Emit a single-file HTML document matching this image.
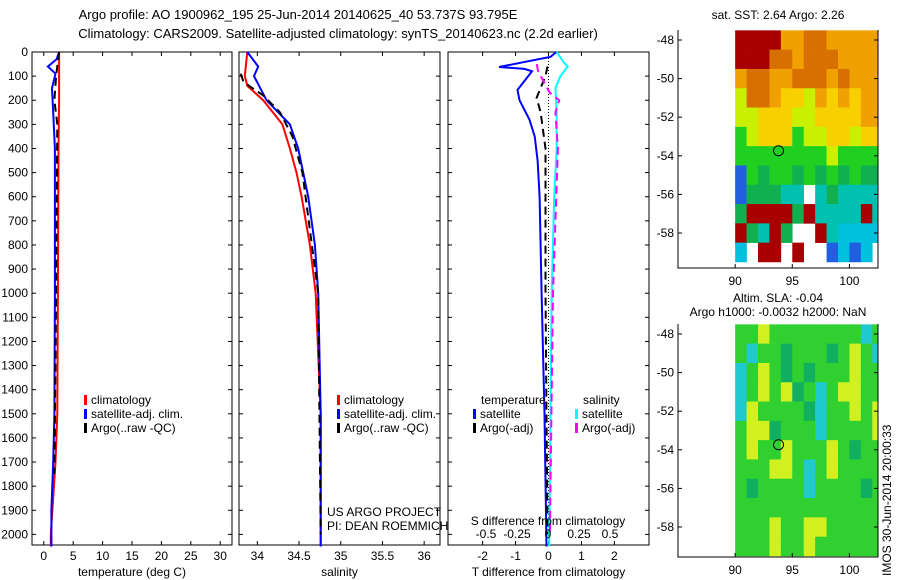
<!DOCTYPE html>
<html><head><meta charset="utf-8">
<style>
body{margin:0;background:#fff}
svg{display:block;font-family:"Liberation Sans",sans-serif}
text{fill:#000}
</style></head><body>
<svg id="s" width="900" height="580" viewBox="0 0 900 580">
<text x="298" y="19" font-size="13" text-anchor="middle">Argo profile: AO 1900962_195 25-Jun-2014 20140625_40 53.737S 93.795E</text>
<text x="338" y="38" font-size="13" text-anchor="middle">Climatology: CARS2009. Satellite-adjusted climatology: synTS_20140623.nc (2.2d earlier)</text>
<text x="778" y="19" font-size="12" text-anchor="middle">sat. SST: 2.64 Argo: 2.26</text>
<text x="778" y="302" font-size="12" text-anchor="middle">Altim. SLA: -0.04</text>
<text x="778" y="316" font-size="12" text-anchor="middle">Argo h1000: -0.0032 h2000: NaN</text>
<text transform="translate(891,576) rotate(-90)" font-size="12">IMOS 30-Jun-2014 20:00:33</text>
</svg>
<script>
const depthTicks=[0,100,200,300,400,500,600,700,800,900,1000,1100,1200,1300,1400,1500,1600,1700,1800,1900,2000];
const tTicks=[0,5,10,15,20,25,30];
const sTicks=[34,34.5,35,35.5,36];
const dtTicks=[-2,-1,0,1,2];
const dsTicks=[-0.5,-0.25,0,0.25,0.5];
const dsTickLabels=["-0.5","-0.25","0","0.25","0.5"];
// temperature profiles [depth, value]
const tClimDepth=[0,200,400,1000,1500,1700,2000,2050];
const tClim=[2.6,2.6,2.5,2.4,2.3,2.0,1.2,1.2];
const tSatDepth=[0,30,60,90,150,250,400,1000,1500,1700,1900,2050];
const tSat=[2.6,2.2,0.7,2.0,1.4,1.6,1.9,1.9,1.8,1.6,1.3,1.3];
const tArgoDepth=[0,100,200,300,1000,1750];
const tArgo=[2.6,2.1,1.8,2.3,2.1,1.8];
// salinity profiles
const sClimDepth=[0,100,140,200,300,400,500,600,800,1000,1500,2050];
const sClim=[33.88,33.85,33.88,34.07,34.30,34.39,34.47,34.53,34.63,34.70,34.76,34.76];
const sSatDepth=[0,60,100,200,300,400,500,600,800,1000,1500,2050];
const sSat=[33.88,34.01,33.96,34.11,34.39,34.49,34.55,34.61,34.69,34.73,34.76,34.76];
const sArgoDepth=[90,120,140,180,250,350,500,1000,2000];
const sArgo=[33.80,33.83,33.90,34.07,34.27,34.42,34.54,34.73,34.76];
// differences
const dtSatDepth=[0,20,62,70,80,157,200,280,350,450,600,800,1000,1500,2050];
const dtSat=[0.24,0.06,-1.5,-0.73,-0.5,-0.94,-0.88,-0.58,-0.42,-0.33,-0.27,-0.24,-0.21,-0.12,-0.06];
const dtArgoDepth=[60,100,190,250,400,600,1000,2000];
const dtArgo=[-0.03,-0.09,-0.36,-0.24,-0.09,-0.09,-0.09,-0.03];
const dsSatDepth=[0,45,60,100,150,250,400,600,1000,2050];
const dsSat=[0.07,0.13,0.16,0.10,0.06,0.07,0.07,0.05,0.03,0.01];
const dsArgoDepth=[50,80,170,200,250,400,1000,2000];
const dsArgo=[-0.09,-0.08,0.015,0.09,0.06,0.08,0.04,0.015];
// map grids (1 deg cells, lon 90..103, lat -47.5 downward)
const sstRows=["RRRRooOOooooo","RRROOoOOOoooo","oOOooOOOoOooo","yOOoYYyoYoYoo","yyYYYyyYYYYoo","GyYYYGyyYYyYY","GGGGGGGGyGGGG","BGgGGgGgGgGgg","BgggTTWTgTTTT","gRRRRgRTTTTRT","RgTRgWWRTCCCC","CWRRWRWWBCBCW"];
const slaRows=["GGYGGGGGGGGCG","GCGGgGGGgGYGC","CGYGgGgGGGYGG","CGYGYgGCGYYGG","CYGGGGgCGGYGY","GYYgGGGCGGGGY","GYGGYGGGYGgGG","GGGYYGCGYGGGG","GgGGGGCGGGGgG","GGGGGGGGGGGGG","GGGYGGYYGGGGG","GGGYGGYGGGGGG"];
const sstColors={R:"#a80000",O:"#d87000",o:"#f0a000",Y:"#f8d000",y:"#c8f000",G:"#20d020",g:"#10b050",T:"#00c0b0",C:"#00c0e0",B:"#2060e0",W:"#ffffff"};
const slaColors={G:"#30d030",g:"#10b060",Y:"#d0f020",C:"#20c8d0"};

const NS="http://www.w3.org/2000/svg";
const svg=document.getElementById('s');
function mk(tag,a,parent){const e=document.createElementNS(NS,tag);for(const k in a)e.setAttribute(k,a[k]);(parent||svg).appendChild(e);return e;}
const Y0=52,PXD=0.2412;
const yD=d=>Y0+d*PXD;
const yBot=545;
function panel(x0,x1,name,xmin,xmax,ticks,labels,title){
  const g=mk('g',{});
  
  
  const xs=v=>x0+(v-xmin)/(xmax-xmin)*(x1-x0);
  const r=mk('rect',{x:x0,y:Y0,width:x1-x0,height:yBot-Y0,fill:'#fff',stroke:'#000','stroke-width':1},g);
  
  
  depthTicks.forEach(d=>{mk('line',{x1:x0,x2:x0+4,y1:yD(d),y2:yD(d),stroke:'#000'},g);mk('line',{x1:x1,x2:x1-4,y1:yD(d),y2:yD(d),stroke:'#000'},g);});
  ticks.forEach((v,i)=>{const x=xs(v);mk('line',{x1:x,x2:x,y1:yBot,y2:yBot-4,stroke:'#000'},g);mk('line',{x1:x,x2:x,y1:Y0,y2:Y0+4,stroke:'#000'},g);
    const t=mk('text',{x:x,y:560,'font-size':12,'text-anchor':'middle'},g);t.textContent=labels?labels[i]:String(v);
    
    });
  const tt=mk('text',{x:(x0+x1)/2,y:576,'font-size':12,'text-anchor':'middle'},g);tt.textContent=title;
  
  
  return {g,xs};
}
function line(p,depths,vals,color,name,dash,w){
  const pts=depths.map((d,i)=>p.xs(vals[i]).toFixed(1)+','+yD(d).toFixed(1)).join(' ');
  const a={points:pts,fill:'none',stroke:color,'stroke-width':w||2};
  if(dash)a['stroke-dasharray']=dash;
  const e=mk('polyline',a,p.g);
  
  
}
depthTicks.forEach(d=>{const t=mk('text',{x:28,y:yD(d)+4,'font-size':12,'text-anchor':'end'});t.textContent=d;
  
  });
const p1=panel(32,232,'temperature-panel',-2,32,tTicks,null,'temperature (deg C)');
line(p1,tClimDepth,tClim,'#f00','temp-climatology-line');
line(p1,tSatDepth,tSat,'#00f','temp-satellite-line');
line(p1,tArgoDepth,tArgo,'#000','temp-argo-line','8,5');
const p2=panel(239,440,'salinity-panel',33.78,36.19,sTicks,["34","34.5","35","35.5","36"],'salinity');
line(p2,sClimDepth,sClim,'#f00','sal-climatology-line');
line(p2,sSatDepth,sSat,'#00f','sal-satellite-line');
line(p2,sArgoDepth,sArgo,'#000','sal-argo-line','8,5');
const p3=panel(448,649,'difference-panel',-3.05,3.05,dtTicks,null,'T difference from climatology');
const p3s={g:p3.g,xs:v=>548+v*124};
mk('line',{x1:p3.xs(0),x2:p3.xs(0),y1:Y0,y2:yBot,stroke:'#000','stroke-dasharray':'1,2'},p3.g);
line(p3,dtSatDepth,dtSat,'#00f','dt-satellite-line');
line(p3,dtArgoDepth,dtArgo,'#000','dt-argo-line','8,5');
line(p3s,dsSatDepth,dsSat,'#0ff','ds-satellite-line');
line(p3s,dsArgoDepth,dsArgo,'#f0f','ds-argo-line','8,5');
dsTicks.forEach((v,i)=>{const t=mk('text',{x:p3s.xs(v),y:538,'font-size':12,'text-anchor':'middle'},p3.g);t.textContent=dsTickLabels[i];
  
  });
function txt(x,y,s,name,anchor){const t=mk('text',{x:x,y:y,'font-size':12,'text-anchor':anchor||'start'});t.textContent=s;
  
  }
txt(548,525,'S difference from climatology','s-diff-axis-title','middle');
txt(327,516,'US ARGO PROJECT','project-label');
txt(327,530,'PI: DEAN ROEMMICH','pi-label');
function leg(x,y,color,label){const r=mk('rect',{x:x,y:y-9,width:3,height:10,fill:color});
  
  
  txt(x+7,y,label,'legend-entry');}
[[84,'#f00','climatology'],[84,'#00f','satellite-adj. clim.'],[84,'#000','Argo(..raw -QC)']].forEach((e,i)=>leg(e[0],404+i*14,e[1],e[2]));
[[337,'#f00','climatology'],[337,'#00f','satellite-adj. clim.'],[337,'#000','Argo(..raw -QC)']].forEach((e,i)=>leg(e[0],404+i*14,e[1],e[2]));
txt(481,404,'temperature','legend-heading-temperature');
txt(583,404,'salinity','legend-heading-salinity');
leg(473,418,'#00f','satellite');leg(473,432,'#000','Argo(-adj)');
leg(575,418,'#0ff','satellite');leg(575,432,'#f0f','Argo(-adj)');
function map(top,bot,rows,colors,name){
  const g=mk('g',{});
  
  
  const x0=678,x1=878,lonMin=85,lonMax=102.5;
  const lx=l=>x0+(l-lonMin)/(lonMax-lonMin)*(x1-x0);
  const ly=l=>(top+10)+(-48-l)*19.3;
  mk('rect',{x:x0,y:top,width:x1-x0,height:bot-top,fill:'#fff'},g);
  rows.forEach((row,r)=>{for(let c=0;c<row.length;c++){const ch=row[c];if(ch==='W')continue;
    const xa=lx(90+c),xb=Math.min(lx(91+c),x1),ya=Math.max(ly(-47.5-r),top),yb=Math.min(ly(-48.5-r),bot);
    if(xb<=xa||yb<=ya)continue;
    const e=mk('rect',{x:xa,y:ya,width:xb-xa+0.3,height:yb-ya+0.3,fill:colors[ch]},g);
    
    }});
  mk('path',{d:`M${x0},${top}V${bot}H${x1}V${top}`,fill:'none',stroke:'#000'},g);
  [-48,-50,-52,-54,-56,-58].forEach(l=>{mk('line',{x1:x0,x2:x0+4,y1:ly(l),y2:ly(l),stroke:'#000'},g);mk('line',{x1:x1,x2:x1-4,y1:ly(l),y2:ly(l),stroke:'#000'},g);
    const t=mk('text',{x:x0-4,y:ly(l)+4,'font-size':12,'text-anchor':'end'},g);t.textContent=l;
    
    });
  [90,95,100].forEach(l=>{mk('line',{x1:lx(l),x2:lx(l),y1:bot,y2:bot-4,stroke:'#000'},g);
    const t=mk('text',{x:lx(l),y:bot+17,'font-size':12,'text-anchor':'middle'},g);t.textContent=l;
    
    });
  const c=mk('circle',{cx:lx(93.795),cy:ly(-53.737),r:5,fill:'none',stroke:'#000'},g);
  
  
}
map(30,268,sstRows,sstColors,'sst-map');
map(324,557,slaRows,slaColors,'sla-map');
</script>
</body></html>
